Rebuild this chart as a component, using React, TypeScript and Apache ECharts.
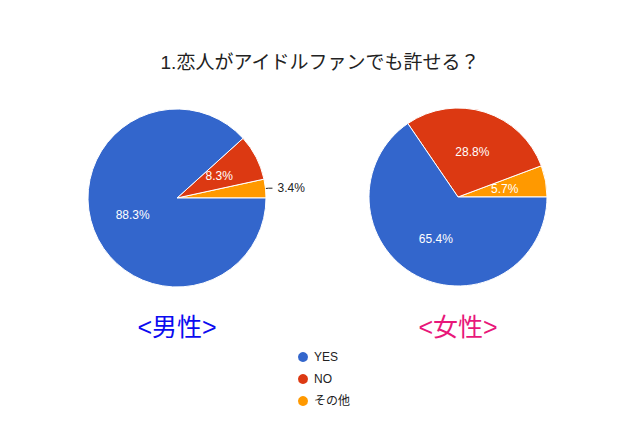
import { useEffect, useRef } from "react";
import * as echarts from "echarts";

const categories = ["YES", "NO", "その他"];
const maleValues = [88.3, 8.3, 3.4];
const femaleValues = [65.4, 28.8, 5.7];
const colors = ["#3366cc", "#dc3912", "#ff9900"];

const FONT = "'Liberation Sans', 'Noto Sans CJK JP', sans-serif";

function buildData(values: number[], outsideIdx: number) {
  // counter-clockwise from 3 o'clock: その他, NO, YES
  return [2, 1, 0].map((i) => ({
    name: categories[i],
    value: values[i],
    itemStyle: { color: colors[i] },
    label:
      i === outsideIdx
        ? { position: "outside", color: "#222", distance: 2 }
        : undefined,
    labelLine:
      i === outsideIdx
        ? { show: true, length: 3, length2: 4, lineStyle: { color: "#222" } }
        : { show: false },
  }));
}

function pieSeries(center: [number, number], values: number[], outsideIdx: number) {
  return {
    type: "pie",
    center,
    radius: 89,
    startAngle: 0,
    clockwise: false,
    itemStyle: { borderColor: "#fff", borderWidth: 1 },
    label: {
      show: true,
      position: "inside",
      formatter: (p: any) => p.value.toFixed(1) + "%",
      color: "#fff",
      fontSize: 12,
      fontFamily: FONT,
    },
    emphasis: { disabled: true },
    data: buildData(values, outsideIdx),
  };
}

export default function App() {
  const ref = useRef<HTMLDivElement>(null);
  useEffect(() => {
    if (!ref.current) return;
    const chart = echarts.init(ref.current, null, { renderer: "svg" });
    chart.setOption({
      animation: false,
      backgroundColor: "#fff",
      title: {
        text: "1.恋人がアイドルファンでも許せる？",
        left: "center",
        top: 40,
        textStyle: { fontSize: 19, fontWeight: "normal", color: "#222", fontFamily: FONT },
      },
      legend: {
        orient: "vertical",
        left: 283,
        top: 337,
        data: categories,
        icon: "circle",
        itemWidth: 12,
        itemHeight: 12,
        itemGap: 8,
        textStyle: { fontSize: 12, color: "#222", fontFamily: FONT },
      },
      graphic: [
        {
          type: "text",
          x: 169,
          y: 319,
          style: { text: "<男性>", fill: "#0b0bf0", fontSize: 25, fontFamily: FONT, align: "center", verticalAlign: "middle" },
        },
        {
          type: "text",
          x: 450,
          y: 319,
          style: { text: "<女性>", fill: "#e8177a", fontSize: 25, fontFamily: FONT, align: "center", verticalAlign: "middle" },
        },
      ],
      series: [
        pieSeries([169, 190], maleValues, 2),
        pieSeries([450, 189], femaleValues, -1),
      ],
    });
    return () => chart.dispose();
  }, []);
  return <div ref={ref} style={{ width: 624, height: 419 }} />;
}
